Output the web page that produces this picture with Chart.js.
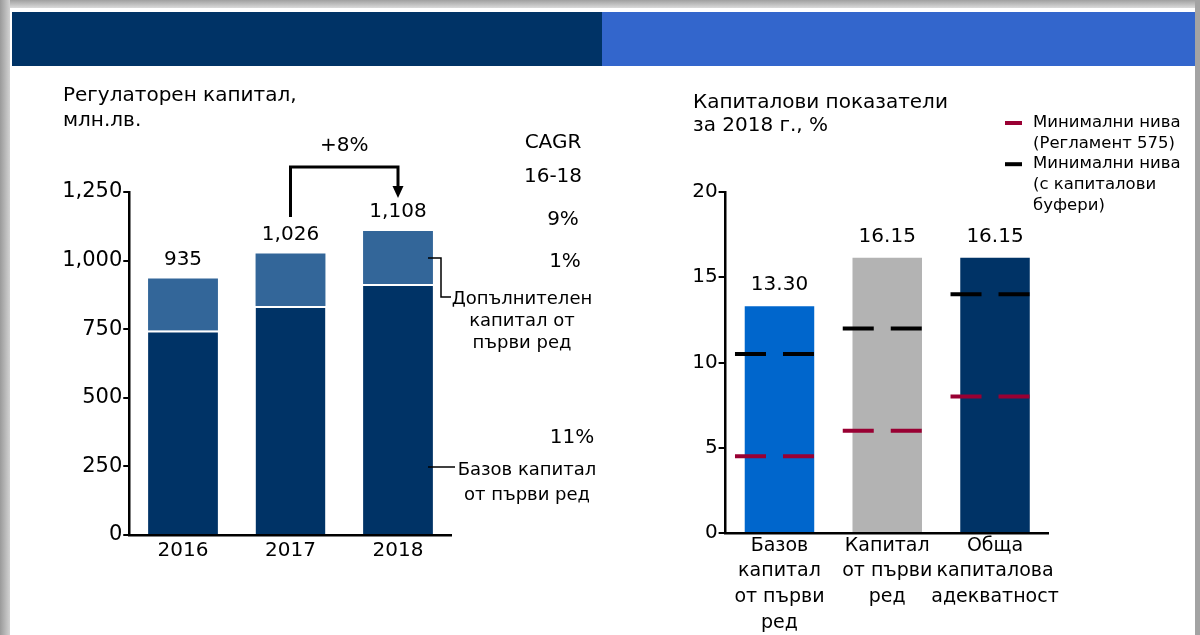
<!DOCTYPE html>
<html><head><meta charset="utf-8">
<script src="https://cdn.jsdelivr.net/npm/chart.js@4.4.0/dist/chart.umd.min.js"></script>
<style>
html,body{margin:0;padding:0;width:1200px;height:635px;overflow:hidden;background:#a3a3a3;}
#page{position:absolute;left:10px;top:8px;width:1185px;height:627px;background:#fff;}
#shadowL{position:absolute;left:0;top:0;width:10px;height:635px;background:linear-gradient(to right,#9a9a9a,#d2d2d2);}
#shadowT{position:absolute;left:0;top:0;width:1195px;height:8px;background:linear-gradient(to bottom,#a0a0a0,#dadada);}
#hdrL{position:absolute;left:12px;top:12px;width:590px;height:54px;background:#003366;}
#hdrR{position:absolute;left:602px;top:12px;width:593px;height:54px;background:#3366cc;}
canvas{position:absolute;left:0;top:0;}
</style></head>
<body>
<div id="shadowT"></div><div id="shadowL"></div><div id="page"></div>
<div id="hdrL"></div><div id="hdrR"></div>
<canvas id="left" width="1200" height="635"></canvas>
<canvas id="right" width="1200" height="635"></canvas>
<script>
// ---------- data ----------
const years = ['2016', '2017', '2018'];
const baseCapital = [745, 835, 915];
const additionalCapital = [190, 191, 193];
const leftTicks = [0, 250, 500, 750, 1000, 1250];
const leftTitle = ['Регулаторен капитал,', 'млн.лв.'];
const cagrHeader = ['CAGR', '16-18'];
const cagrTotal = '9%';
const cagrAdditional = '1%';
const cagrBase = '11%';
const growthLabel = '+8%';
const additionalLabel = ['Допълнителен', 'капитал от', 'първи ред'];
const baseLabel = ['Базов капитал', 'от първи ред'];

const rightTitle = ['Капиталови показатели', 'за 2018 г., %'];
const ratioCategories = [['Базов', 'капитал', 'от първи', 'ред'], ['Капитал', 'от първи', 'ред'], ['Обща', 'капиталова', 'адекватност']];
const ratioValues = [13.30, 16.15, 16.15];
const minRegulation = [4.5, 6.0, 8.0];
const minBuffers = [10.5, 12.0, 14.0];
const rightTicks = [0, 5, 10, 15, 20];
const legendRegulation = ['Минимални нива', '(Регламент 575)'];
const legendBuffers = ['Минимални нива', '(с капиталови', 'буфери)'];

const FONT = 'DejaVu Sans';
Chart.defaults.font.family = FONT;
Chart.defaults.color = '#000';

function txt(ctx, s, x, y, size, align) {
  ctx.save();
  ctx.font = size + 'px "' + FONT + '"';
  ctx.fillStyle = '#000';
  ctx.textAlign = align || 'center';
  ctx.textBaseline = 'middle';
  ctx.fillText(s, x, y);
  ctx.restore();
}
function line(ctx, pts, w) {
  ctx.save();
  ctx.strokeStyle = '#000';
  ctx.lineWidth = w;
  ctx.beginPath();
  ctx.moveTo(pts[0][0], pts[0][1]);
  for (let i = 1; i < pts.length; i++) ctx.lineTo(pts[i][0], pts[i][1]);
  ctx.stroke();
  ctx.restore();
}

// ---------- left chart ----------
const leftAnnot = {
  id: 'leftAnnot',
  afterDraw(chart) {
    const ctx = chart.ctx, xs = chart.scales.x, ys = chart.scales.y;
    txt(ctx, leftTitle[0], 63, 96, 20, 'left');
    txt(ctx, leftTitle[1], 63, 121, 20, 'left');
    years.forEach((y, i) => {
      const total = baseCapital[i] + additionalCapital[i];
      txt(ctx, total.toLocaleString('en-US'), xs.getPixelForValue(i), ys.getPixelForValue(total) - 19, 20);
    });
    // growth bracket
    const x1 = xs.getPixelForValue(1), x2 = xs.getPixelForValue(2);
    line(ctx, [[x1, 217], [x1, 167], [x2, 167], [x2, 189]], 3);
    ctx.save(); ctx.fillStyle = '#000'; ctx.beginPath();
    ctx.moveTo(x2 - 5.5, 186); ctx.lineTo(x2 + 5.5, 186); ctx.lineTo(x2, 198); ctx.closePath(); ctx.fill(); ctx.restore();
    txt(ctx, growthLabel, (x1 + x2) / 2, 146, 20);
    // CAGR column
    txt(ctx, cagrHeader[0], 553, 143, 20);
    txt(ctx, cagrHeader[1], 553, 177, 20);
    txt(ctx, cagrTotal, 563, 220, 20);
    txt(ctx, cagrAdditional, 565, 262, 20);
    txt(ctx, cagrBase, 572, 438, 20);
    // callouts
    const bx = xs.getPixelForValue(2) + 30;
    line(ctx, [[bx, 258], [441, 258], [441, 297], [451, 297]], 1.5);
    txt(ctx, additionalLabel[0], 522, 299, 18);
    txt(ctx, additionalLabel[1], 522, 321, 18);
    txt(ctx, additionalLabel[2], 522, 343, 18);
    line(ctx, [[bx, 467], [455, 467]], 1.5);
    txt(ctx, baseLabel[0], 527, 470, 18);
    txt(ctx, baseLabel[1], 527, 495, 18);
  }
};

new Chart(document.getElementById('left'), {
  type: 'bar',
  data: {
    labels: years,
    datasets: [
      { label: 'Базов капитал от първи ред', data: baseCapital, backgroundColor: '#003366',
        borderColor: '#ffffff', borderWidth: { top: 2, left: 0, right: 0, bottom: 0 }, borderSkipped: false,
        barPercentage: 0.65, categoryPercentage: 1 },
      { label: 'Допълнителен капитал от първи ред', data: additionalCapital, backgroundColor: '#336699',
        barPercentage: 0.65, categoryPercentage: 1 }
    ]
  },
  options: {
    responsive: false, animation: false, locale: 'en-US',
    layout: { padding: { left: 49.25, right: 748.25, top: 192, bottom: 70 } },
    plugins: { legend: { display: false }, tooltip: { enabled: false } },
    scales: {
      x: { stacked: true, grid: { display: false, drawTicks: false },
        border: { display: true, color: '#000', width: 2.5 },
        ticks: { font: { size: 20 }, color: '#000', padding: 4 },
        afterFit(s) { s.height = 30; } },
      y: { stacked: true, min: 0, max: 1250,
        grid: { drawOnChartArea: false, drawTicks: true, tickLength: 6, color: '#000', lineWidth: 2 },
        border: { display: true, color: '#000', width: 2.5 },
        ticks: { font: { size: 21 }, color: '#000', padding: 1 },
        afterBuildTicks(s) { s.ticks = leftTicks.map(v => ({ value: v })); },
        afterFit(s) { s.width = 80; } }
    }
  },
  plugins: [leftAnnot]
});

// ---------- right chart ----------
const rightAnnot = {
  id: 'rightAnnot',
  afterDatasetsDraw(chart) {
    const ctx = chart.ctx;
    chart.data.datasets.forEach((ds, di) => {
      if (ds.type !== 'line') return;
      const meta = chart.getDatasetMeta(di);
      meta.data.forEach(pt => {
        ctx.save();
        ctx.strokeStyle = ds.borderColor;
        ctx.lineWidth = 4;
        ctx.setLineDash([31, 17]);
        ctx.beginPath();
        ctx.moveTo(pt.x - 44.5, pt.y);
        ctx.lineTo(pt.x + 34.5, pt.y);
        ctx.stroke();
        ctx.restore();
      });
    });
  },
  afterDraw(chart) {
    const ctx = chart.ctx, xs = chart.scales.x, ys = chart.scales.y;
    txt(ctx, rightTitle[0], 693, 103, 20, 'left');
    txt(ctx, rightTitle[1], 693, 126, 20, 'left');
    ratioValues.forEach((v, i) => {
      txt(ctx, v.toFixed(2), xs.getPixelForValue(i), ys.getPixelForValue(v) - 21, 20);
    });
    // legend
    let y = 123;
    chart.data.datasets.forEach(ds => {
      if (ds.type !== 'line') return;
      ctx.save(); ctx.strokeStyle = ds.borderColor; ctx.lineWidth = 4;
      ctx.beginPath(); ctx.moveTo(1005, y); ctx.lineTo(1022, y); ctx.stroke(); ctx.restore();
      ds.legendLines.forEach(t => { txt(ctx, t, 1033, y, 16.5, 'left'); y += 20.6; });
    });
  }
};

new Chart(document.getElementById('right'), {
  type: 'bar',
  data: {
    labels: ratioCategories,
    datasets: [
      { type: 'bar', label: 'Капиталови показатели', data: ratioValues,
        backgroundColor: ['#0066cc', '#b3b3b3', '#003366'], barPercentage: 0.645, categoryPercentage: 1, order: 2 },
      { type: 'line', label: legendRegulation.join(' '), legendLines: legendRegulation, data: minRegulation,
        borderColor: '#990033', showLine: false, pointRadius: 0, pointHoverRadius: 0, order: 1 },
      { type: 'line', label: legendBuffers.join(' '), legendLines: legendBuffers, data: minBuffers,
        borderColor: '#000000', showLine: false, pointRadius: 0, pointHoverRadius: 0, order: 1 }
    ]
  },
  options: {
    responsive: false, animation: false,
    layout: { padding: { left: 665.6, right: 151.1, top: 192, bottom: 2 } },
    plugins: { legend: { display: false }, tooltip: { enabled: false } },
    scales: {
      x: { grid: { display: false, drawTicks: false },
        border: { display: true, color: '#000', width: 2.5 },
        ticks: { font: { size: 19, lineHeight: 1.35 }, color: '#000', padding: 0, maxRotation: 0, autoSkip: false },
        afterFit(s) { s.height = 100; } },
      y: { min: 0, max: 20,
        grid: { drawOnChartArea: false, drawTicks: true, tickLength: 7, color: '#000', lineWidth: 2 },
        border: { display: true, color: '#000', width: 2.5 },
        ticks: { font: { size: 20 }, color: '#000', padding: 1 },
        afterBuildTicks(s) { s.ticks = rightTicks.map(v => ({ value: v })); },
        afterFit(s) { s.width = 60; } }
    }
  },
  plugins: [rightAnnot]
});
</script>
</body></html>
